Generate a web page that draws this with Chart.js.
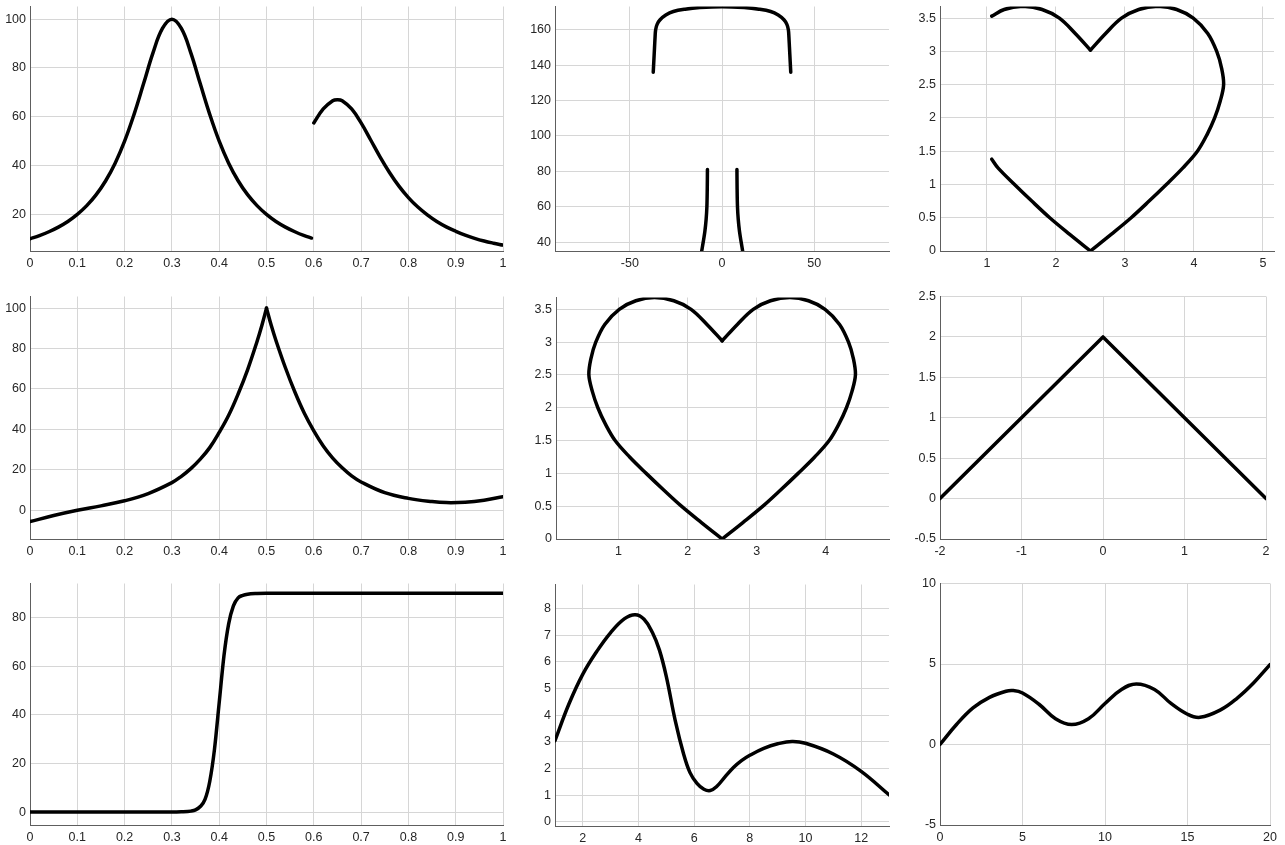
<!DOCTYPE html>
<html>
<head>
<meta charset="utf-8">
<title>Curves</title>
<script src="https://cdn.jsdelivr.net/npm/chart.js@4.4.1/dist/chart.umd.min.js"></script>
<style>
html, body { margin: 0; padding: 0; background: #fff; }
#page { position: relative; width: 1285px; height: 845px; overflow: hidden; }
#page canvas { position: absolute; }
</style>
</head>
<body>
<div id="page"></div>
<script>
'use strict';

// ---- tick values / labels ----
var unitTicks = [0, 0.1, 0.2, 0.3, 0.4, 0.5, 0.6, 0.7, 0.8, 0.9, 1];
var unitLabels = ['0', '0.1', '0.2', '0.3', '0.4', '0.5', '0.6', '0.7', '0.8', '0.9', '1'];
var halfTicks = [0, 0.5, 1, 1.5, 2, 2.5, 3, 3.5];
var halfLabels = ['0', '0.5', '1', '1.5', '2', '2.5', '3', '3.5'];

// ---- top left: two peaks ----
var lorentzX = [0, 0.02, 0.04, 0.06, 0.08, 0.1, 0.12, 0.14, 0.16, 0.18, 0.2, 0.22, 0.24, 0.26, 0.28, 0.3,
    0.32, 0.34, 0.36, 0.38, 0.4, 0.42, 0.44, 0.46, 0.48, 0.5, 0.52, 0.54, 0.56, 0.58, 0.595];
var lorentzY = [10, 11.3, 12.9, 14.8, 17.1, 20, 23.6, 28.1, 33.8, 41, 50, 61, 73.5, 86.2, 96.2, 100,
    96.2, 86.2, 73.5, 61, 50, 41, 33.8, 28.1, 23.6, 20, 17.1, 14.8, 12.9, 11.3, 10.3];
var shoulderX = [0.6, 0.62, 0.64, 0.65, 0.66, 0.68, 0.7, 0.72, 0.74, 0.76, 0.78, 0.8, 0.82, 0.84, 0.86,
    0.88, 0.9, 0.92, 0.94, 0.96, 0.98, 1];
var shoulderY = [57.5, 63.2, 66.6, 67, 66.6, 63.2, 57.5, 50.6, 43.6, 37.2, 31.6, 26.9, 23, 19.8, 17.1,
    14.9, 13.1, 11.5, 10.2, 9.1, 8.2, 7.4];

// ---- top middle: arch and legs ----
var archX = [-37.3, -37, -36.6, -36.3, -36, -35.2, -33.6, -30.5, -26.4, -20, -12, 0,
    12, 20, 26.4, 30.5, 33.6, 35.2, 36, 36.3, 36.6, 37, 37.3];
var archY = [136, 142, 150, 156, 160, 163, 165.6, 168.3, 170.3, 171.6, 172.5, 173,
    172.5, 171.6, 170.3, 168.3, 165.6, 163, 160, 156, 150, 142, 136];
var leftLegX = [-7.9, -8, -8.2, -8.6, -9.3, -10.2, -11];
var rightLegX = [8.1, 8.2, 8.4, 8.8, 9.5, 10.4, 11.2];
var legY = [81, 70, 60, 53, 46, 40, 35];

// ---- hearts ----
var heartRightX = [2.5, 2.72, 2.95, 3.2, 3.48, 3.75, 3.99, 4.2, 4.33, 4.4, 4.43, 4.38, 4.3, 4.19,
    4.05, 3.84, 3.6, 3.35, 3.09, 2.8, 2.5];
var heartLeftX = [2.5, 2.28, 2.05, 1.8, 1.52, 1.25, 1.01, 0.8, 0.67, 0.6, 0.57, 0.62, 0.7, 0.81,
    0.95, 1.16, 1.4, 1.65, 1.91, 2.2, 2.5];
var heartY = [3.02, 3.27, 3.5, 3.63, 3.68, 3.63, 3.5, 3.27, 3, 2.75, 2.5, 2.25, 2, 1.75,
    1.5, 1.25, 1, 0.75, 0.5, 0.25, 0];
var lobeX = [1.07, 1.25, 1.52, 1.8, 2.05, 2.28, 2.5];
var lobeY = [3.53, 3.63, 3.68, 3.63, 3.5, 3.27, 3.02];
var tailX = [2.5, 2.2, 1.91, 1.65, 1.4, 1.16, 1.07];
var tailY = [0, 0.25, 0.5, 0.75, 1, 1.25, 1.38];

// ---- middle left: sharp peak ----
var riseX = [0, 0.05, 0.1, 0.15, 0.2, 0.25, 0.3, 0.32, 0.34, 0.36, 0.38, 0.4, 0.42, 0.44, 0.46, 0.48, 0.49, 0.5];
var riseY = [-5.6, -2.6, 0, 2.2, 4.7, 8.3, 13.7, 16.8, 20.6, 25.3, 31, 38.5, 47, 57.5, 69.5, 83.5, 91.3, 100];
var fallX = [0.5, 0.51, 0.52, 0.54, 0.56, 0.58, 0.6, 0.62, 0.64, 0.66, 0.68, 0.7, 0.75, 0.8, 0.85, 0.88,
    0.92, 0.96, 1];
var fallY = [100, 91.5, 84, 70.5, 58.5, 48, 39.3, 31.8, 25.8, 21, 17, 14, 8.7, 5.9, 4.3, 3.8,
    4, 5, 6.7];

// ---- middle right: triangle ----
var triX = [-2, 0, 2];
var triY = [0, 2, 0];

// ---- bottom left: step ----
var stepX = [0, 0.1, 0.2, 0.3, 0.32, 0.34, 0.35, 0.36, 0.37, 0.38, 0.39, 0.4, 0.41, 0.42, 0.43,
    0.44, 0.45, 0.46, 0.48, 0.5, 0.6, 0.7, 0.8, 0.9, 1];
var stepY = [0, 0, 0, 0, 0.1, 0.4, 0.9, 2.3, 5.2, 12.6, 25.8, 45, 64.2, 77.4, 84.8,
    88.1, 89.1, 89.6, 89.9, 90, 90, 90, 90, 90, 90];

// ---- bottom middle: wave ----
var waveX = [1, 1.5, 2, 2.5, 3, 3.5, 3.88, 4.2, 4.5, 4.75, 5, 5.32, 5.62, 5.85, 6.1, 6.35, 6.58,
    6.8, 7.1, 7.42, 7.7, 8, 8.5, 9, 9.52, 10, 11, 12, 13];
var waveY = [3.05, 4.42, 5.54, 6.39, 7.1, 7.62, 7.77, 7.6, 7.1, 6.45, 5.45, 3.8, 2.55, 1.85, 1.45,
    1.23, 1.18, 1.32, 1.68, 2.05, 2.3, 2.5, 2.76, 2.93, 3.02, 2.95, 2.55, 1.9, 1.02];

// ---- bottom right: bumps ----
var bumpX = [0, 1, 2, 3, 4, 4.44, 5, 6, 7, 7.98, 9, 10, 11, 11.9, 13, 14, 15, 15.76, 17, 18, 19, 20];
var bumpY = [0, 1.24, 2.27, 2.93, 3.31, 3.35, 3.2, 2.5, 1.6, 1.24, 1.6, 2.55, 3.42, 3.76, 3.42,
    2.55, 1.88, 1.69, 2.15, 2.87, 3.82, 4.96];

// room around each plot box for tick labels
var AXIS_W = 40, AXIS_H = 24, PAD_TOP = 10, PAD_RIGHT = 14;
var FONT = '"Liberation Sans", Arial, Helvetica, sans-serif';

function zip(xs, ys) {
    var pts = [];
    for (var i = 0; i < xs.length; i++) {
        pts.push({ x: xs[i], y: ys[i] });
    }
    return pts;
}

function axisOptions(dir, ax) {
    return {
        type: 'linear',
        min: ax.min,
        max: ax.max,
        afterBuildTicks: function (scale) {
            scale.ticks = ax.ticks.map(function (v) { return { value: v }; });
        },
        afterFit: function (scale) {
            if (dir === 'x') {
                scale.height = AXIS_H;
            } else {
                scale.width = AXIS_W;
            }
        },
        grid: { color: '#d6d6d6', lineWidth: 1, drawTicks: false },
        border: { display: true, color: '#5e5e5e', width: 1 },
        ticks: {
            autoSkip: false,
            maxRotation: 0,
            padding: dir === 'x' ? 5 : 4,
            color: '#262626',
            font: { family: FONT, size: 12.5 },
            callback: function (value, index) { return ax.labels[index]; }
        }
    };
}

// curve: 'monotone' or a tension number
function makePanel(box, series, xAxis, yAxis, curve) {
    var w = box[2] - box[0] + AXIS_W + PAD_RIGHT;
    var h = box[3] - box[1] + PAD_TOP + AXIS_H;
    var canvas = document.createElement('canvas');
    canvas.width = w;
    canvas.height = h;
    canvas.style.width = w + 'px';
    canvas.style.height = h + 'px';
    canvas.style.left = (box[0] - AXIS_W) + 'px';
    canvas.style.top = (box[1] - PAD_TOP) + 'px';
    document.getElementById('page').appendChild(canvas);

    var datasets = series.map(function (s) {
        var ds = {
            data: zip(s[0], s[1]),
            showLine: true,
            borderColor: '#000',
            borderWidth: 3.5,
            borderJoinStyle: 'round',
            borderCapStyle: 'round',
            pointRadius: 0,
            fill: false
        };
        if (curve === 'monotone') {
            ds.cubicInterpolationMode = 'monotone';
        } else {
            ds.tension = curve;
        }
        return ds;
    });

    return new Chart(canvas, {
        type: 'scatter',
        data: { datasets: datasets },
        options: {
            responsive: false,
            animation: false,
            events: [],
            layout: { padding: { top: PAD_TOP, right: PAD_RIGHT, left: 0, bottom: 0 } },
            plugins: { legend: { display: false }, tooltip: { enabled: false } },
            scales: {
                x: axisOptions('x', xAxis),
                y: axisOptions('y', yAxis)
            }
        }
    });
}

// row 1
makePanel([30, 5, 503, 251],
    [[lorentzX, lorentzY], [shoulderX, shoulderY]],
    { min: 0, max: 1, ticks: unitTicks, labels: unitLabels },
    { min: 5, max: 105.2, ticks: [20, 40, 60, 80, 100], labels: ['20', '40', '60', '80', '100'] },
    0.4);

makePanel([555, 5, 889, 251],
    [[archX, archY], [leftLegX, legY], [rightLegX, legY]],
    { min: -90.6, max: 90.6, ticks: [-50, 0, 50], labels: ['-50', '0', '50'] },
    { min: 35, max: 173.1, ticks: [40, 60, 80, 100, 120, 140, 160],
      labels: ['40', '60', '80', '100', '120', '140', '160'] },
    0.35);

makePanel([940, 5, 1274, 251],
    [[lobeX, lobeY], [heartRightX, heartY], [tailX, tailY]],
    { min: 0.32, max: 5.16, ticks: [1, 2, 3, 4, 5], labels: ['1', '2', '3', '4', '5'] },
    { min: 0, max: 3.675, ticks: halfTicks, labels: halfLabels },
    0.35);

// row 2
makePanel([30, 295, 503, 539],
    [[riseX, riseY], [fallX, fallY]],
    { min: 0, max: 1, ticks: unitTicks, labels: unitLabels },
    { min: -14.2, max: 105.75, ticks: [0, 20, 40, 60, 80, 100],
      labels: ['0', '20', '40', '60', '80', '100'] },
    0.4);

makePanel([556, 296, 889, 539],
    [[heartRightX, heartY], [heartLeftX, heartY]],
    { min: 0.094, max: 4.916, ticks: [1, 2, 3, 4], labels: ['1', '2', '3', '4'] },
    { min: 0, max: 3.68, ticks: halfTicks, labels: halfLabels },
    0.35);

makePanel([940, 295, 1266, 539],
    [[triX, triY]],
    { min: -2, max: 2, ticks: [-2, -1, 0, 1, 2], labels: ['-2', '-1', '0', '1', '2'] },
    { min: -0.5, max: 2.5, ticks: [-0.5, 0, 0.5, 1, 1.5, 2, 2.5],
      labels: ['-0.5', '0', '0.5', '1', '1.5', '2', '2.5'] },
    0);

// row 3
makePanel([30, 582, 503, 825],
    [[stepX, stepY]],
    { min: 0, max: 1, ticks: unitTicks, labels: unitLabels },
    { min: -5.3, max: 94, ticks: [0, 20, 40, 60, 80], labels: ['0', '20', '40', '60', '80'] },
    'monotone');

makePanel([555, 583, 889, 826],
    [[waveX, waveY]],
    { min: 1, max: 13, ticks: [2, 4, 6, 8, 10, 12], labels: ['2', '4', '6', '8', '10', '12'] },
    { min: -0.15, max: 8.9, ticks: [0, 1, 2, 3, 4, 5, 6, 7, 8],
      labels: ['0', '1', '2', '3', '4', '5', '6', '7', '8'] },
    0.4);

makePanel([940, 582, 1270, 825],
    [[bumpX, bumpY]],
    { min: 0, max: 20, ticks: [0, 5, 10, 15, 20], labels: ['0', '5', '10', '15', '20'] },
    { min: -5, max: 10, ticks: [-5, 0, 5, 10], labels: ['-5', '0', '5', '10'] },
    0.4);
</script>
</body>
</html>
